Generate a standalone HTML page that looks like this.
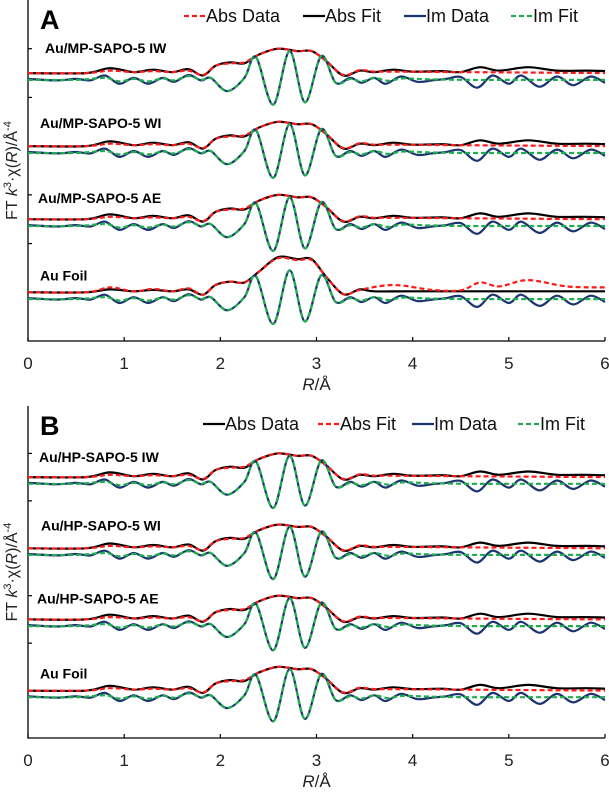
<!DOCTYPE html>
<html><head><meta charset="utf-8">
<style>
html,body{margin:0;padding:0;background:#fff;}
svg{display:block;font-family:"Liberation Sans",sans-serif;}
</style></head>
<body>
<svg id="chart" width="609" height="799" viewBox="0 0 609 799"></svg>
<script>
// ---- data (R in Å, values in tick units relative to each trace's offset) ----
const xTicks = [0,1,2,3,4,5,6];
const sampleOffsets = [5.5, 4.0, 2.5, 1.0];
const labelsA = ["Au/MP-SAPO-5 IW","Au/MP-SAPO-5 WI","Au/MP-SAPO-5 AE","Au Foil"];
const labelsB = ["Au/HP-SAPO-5 IW","Au/HP-SAPO-5 WI","Au/HP-SAPO-5 AE","Au Foil"];
const absSolidR = [0,0.6,0.85,1.1,1.3,1.5,1.67,1.82,1.95,2.1,2.25,2.4,2.6,2.8,2.95,3.1,3.28,3.45,3.6,3.8,4.0,4.3,4.5,4.7,4.9,5.2,5.5,5.8,6];
const absSolidV = [0,0,0.1,0.02,0.07,0.02,0.08,-0.05,0.15,0.22,0.2,0.38,0.5,0.45,0.45,0.25,-0.05,0.05,0.02,0.07,0.03,0.04,0.02,0.12,0.05,0.12,0.05,0.05,0.04];
const absDashR = [0,0.6,0.85,1.1,1.3,1.5,1.67,1.82,1.95,2.1,2.25,2.4,2.6,2.8,2.95,3.1,3.28,3.45,3.6,3.8,4.5,6];
const absDashV = [0,0,0.05,0.02,0.04,0.02,0.05,-0.04,0.15,0.2,0.22,0.38,0.5,0.45,0.45,0.25,-0.04,0.06,0.03,0.03,0.02,0.0];
const foilDashR = [0,0.6,0.85,1.1,1.3,1.5,1.67,1.82,1.95,2.1,2.25,2.4,2.6,2.8,2.95,3.1,3.28,3.45,3.8,4.2,4.5,4.7,4.9,5.2,5.6,6];
const foilDashV = [0,0,0.1,0.02,0.07,0.02,0.08,-0.05,0.15,0.22,0.2,0.42,0.7,0.66,0.66,0.32,-0.04,0.05,0.15,0.05,0.04,0.2,0.12,0.25,0.12,0.1];
const foilSolidR = [0,0.6,0.85,1.1,1.3,1.5,1.67,1.82,1.95,2.1,2.25,2.4,2.6,2.8,2.95,3.1,3.28,3.45,3.6,4.0,5.0,6];
const foilSolidV = [0,0,0.06,0.02,0.05,0.02,0.06,-0.05,0.15,0.22,0.2,0.42,0.72,0.68,0.68,0.32,-0.04,0.06,0.02,0.02,0.02,0.02];
const imDataR = [0,0.3,0.5,0.65,0.8,0.95,1.1,1.25,1.4,1.52,1.67,1.8,1.9,2.07,2.25,2.37,2.55,2.72,2.88,3.05,3.2,3.35,3.47,3.6,3.72,3.88,4.05,4.2,4.35,4.5,4.67,4.83,5.0,5.13,5.32,5.5,5.67,5.85,6];
const imDataV = [-0.12,-0.15,-0.12,-0.15,-0.05,-0.22,-0.1,-0.22,-0.1,-0.18,-0.04,-0.15,-0.1,-0.37,-0.1,0.33,-0.65,0.45,-0.6,0.35,-0.2,-0.1,-0.2,-0.1,-0.22,-0.07,-0.18,-0.15,-0.12,-0.08,-0.3,-0.05,-0.22,-0.05,-0.28,-0.07,-0.25,-0.07,-0.2];
const imFitR = [0,0.5,0.8,0.95,1.1,1.25,1.4,1.52,1.67,1.8,1.9,2.07,2.25,2.37,2.55,2.72,2.88,3.05,3.2,3.35,3.47,3.6,3.75,3.9,4.2,4.6,5.0,5.5,6];
const imFitV = [-0.14,-0.14,-0.1,-0.17,-0.12,-0.17,-0.11,-0.15,-0.06,-0.14,-0.1,-0.37,-0.1,0.33,-0.65,0.45,-0.6,0.35,-0.2,-0.12,-0.17,-0.1,-0.16,-0.11,-0.13,-0.14,-0.14,-0.14,-0.14];

const NS="http://www.w3.org/2000/svg";
const svg=document.getElementById('chart');
function el(tag,attrs,parent){const e=document.createElementNS(NS,tag);for(const k in attrs)e.setAttribute(k,attrs[k]);(parent||svg).appendChild(e);return e;}
function pathD(xs,ys){
  let d='M'+xs[0].toFixed(1)+','+ys[0].toFixed(1);
  for(let i=0;i<xs.length-1;i++){
    const x0=xs[Math.max(i-1,0)],y0=ys[Math.max(i-1,0)],x1=xs[i],y1=ys[i],x2=xs[i+1],y2=ys[i+1],x3=xs[Math.min(i+2,xs.length-1)],y3=ys[Math.min(i+2,xs.length-1)];
    const c1x=x1+(x2-x0)/6,c1y=y1+(y2-y0)/6,c2x=x2-(x3-x1)/6,c2y=y2-(y3-y1)/6;
    d+=' C'+c1x.toFixed(1)+','+c1y.toFixed(1)+' '+c2x.toFixed(1)+','+c2y.toFixed(1)+' '+x2.toFixed(1)+','+y2.toFixed(1);
  }
  return d;
}
function panel(p){
  const g=el('g',{});
  
  
  const xs=r=>p.x0+(p.x1-p.x0)*r/6;
  const ys=v=>p.yb-(p.yb-p.yt)*v/7;
  const ax=el('path',{d:`M${p.x0},${p.yt} V${p.yb} H${p.x1}`,stroke:'#000','stroke-width':1.3,fill:'none'},g);
   
  for(let t=1;t<=6;t++){const tk=el('line',{x1:p.x0,x2:p.x0+4,y1:ys(t),y2:ys(t),stroke:'#000','stroke-width':1.2},g);
     }
  xTicks.forEach(t=>{
    const tk=el('line',{x1:xs(t),x2:xs(t),y1:p.yb,y2:p.yb-4,stroke:'#000','stroke-width':1.2},g);
     
    const tl=el('text',{x:xs(t),y:p.yb+28,'font-size':17,'text-anchor':'middle',fill:'#222'},g);
    tl.textContent=t;
     
  });
  const xt=el('text',{x:(p.x0+p.x1)/2,y:p.yb+49,'font-size':17,'text-anchor':'middle',fill:'#222'},g);
  xt.innerHTML='<tspan font-style="italic">R</tspan>/Å';
   
  const yt=el('text',{x:0,y:0,'font-size':16,'text-anchor':'middle',fill:'#222',transform:`translate(17,${(p.yt+p.yb)/2}) rotate(-90)`},g);
  yt.innerHTML='FT <tspan font-style="italic">k</tspan><tspan dy="-6" font-size="11">3</tspan><tspan dy="6">·χ(</tspan><tspan font-style="italic">R</tspan>)/Å<tspan dy="-6" font-size="11">-4</tspan>';
   
  const L=el('text',{x:40,y:p.yt+29,'font-size':27,'font-weight':'bold'},g);
  L.textContent=p.letter;  
  sampleOffsets.forEach((off,i)=>{
    const foil=i===3;
    const sR=(p.foilSwap&&foil)?foilSolidR:absSolidR, sV=(p.foilSwap&&foil)?foilSolidV:absSolidV;
    const dR=(p.foilSwap&&foil)?foilDashR:absDashR, dV=(p.foilSwap&&foil)?foilDashV:absDashV;
    const curves=[{r:sR,v:sV,c:'#000',dash:null,n:'abs-black'},{r:dR,v:dV,c:'#ff1a1a',dash:'5,3',n:'abs-red'},{r:imDataR,v:imDataV,c:'#1c3570',dash:null,n:'im-data'},{r:imFitR,v:imFitV,c:'#1fae4e',dash:'5,3',n:'im-fit'}];
    curves.forEach(c=>{
      const pa=el('path',{d:pathD(c.r.map(xs),c.v.map(v=>ys(v+off))),stroke:c.c,'stroke-width':2.2,fill:'none'},g);
      if(c.dash)pa.setAttribute('stroke-dasharray',c.dash);
       
    });
    const lb=el('text',{x:p.labelX[i],y:ys(off)-p.labelDy[i],'font-size':14,'font-weight':'bold'},g);
    lb.textContent=p.labels[i];  
  });
  p.legend.forEach(it=>{
    const ln=el('line',{x1:it.x,x2:it.x+22,y1:p.legY-6,y2:p.legY-6,stroke:it.c,'stroke-width':2.2},g);
    if(it.dash)ln.setAttribute('stroke-dasharray','5,3');
     
    const tx=el('text',{x:it.x+22,y:p.legY,'font-size':18,fill:'#111'},g);
    tx.textContent=it.t;  
  });
}
panel({name:'panel-a',letter:'A',x0:28,x1:605,yt:0,yb:341,labels:labelsA,labelX:[45,40,38,40],labelDy:[20,18,16,12],foilSwap:true,legY:22,
  legend:[{x:184,t:'Abs Data',c:'#ff1a1a',dash:true},{x:303,t:'Abs Fit',c:'#000'},{x:404,t:'Im Data',c:'#1c3570'},{x:511,t:'Im Fit',c:'#1fae4e',dash:true}]});
panel({name:'panel-b',letter:'B',x0:28,x1:605,yt:406,yb:738,labels:labelsB,labelX:[39,41,37,40],labelDy:[15,18,16,12],foilSwap:false,legY:430,
  legend:[{x:203,t:'Abs Data',c:'#000'},{x:318,t:'Abs Fit',c:'#ff1a1a',dash:true},{x:412,t:'Im Data',c:'#1c3570'},{x:518,t:'Im Fit',c:'#1fae4e',dash:true}]});
</script>
</body></html>
